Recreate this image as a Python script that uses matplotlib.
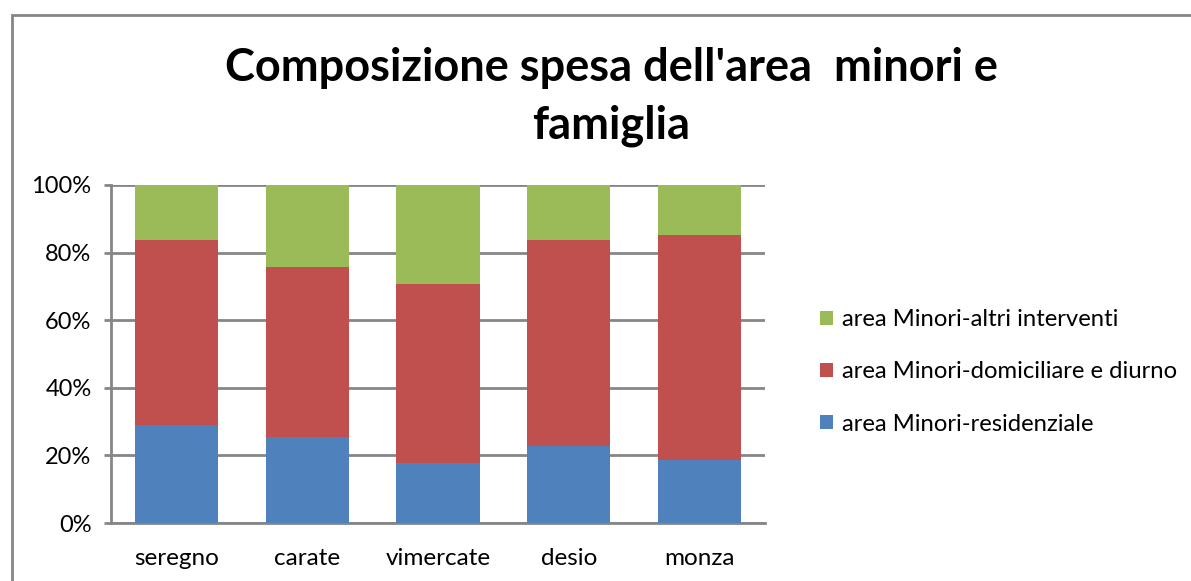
import matplotlib
matplotlib.use("Agg")
import matplotlib.pyplot as plt
from matplotlib.patches import Rectangle
import numpy as np

categories = ["seregno", "carate", "vimercate", "desio", "monza"]
residenziale = [28.9, 25.4, 17.7, 22.8, 18.7]
domiciliare = [54.8, 50.2, 53.0, 60.9, 66.5]
altri = [16.3, 24.4, 29.3, 16.3, 14.8]
series_names = ["area Minori-residenziale", "area Minori-domiciliare e diurno", "area Minori-altri interventi"]
colors = ["#4F81BD", "#C0504D", "#9BBB59"]
yticks = [0, 20, 40, 60, 80, 100]
title_lines = ["Composizione spesa dell'area  minori e", "famiglia"]

plt.rcParams['font.family'] = ['Lato', 'DejaVu Sans']

W, H = 1191, 581
fig = plt.figure(figsize=(W/100, H/100), dpi=100)
ax = fig.add_axes([111/W, 1-523/H, (765-111)/W, (523-185)/H])

x = np.arange(len(categories))
bw = 0.635
bottom = np.zeros(len(categories))
handles = []
for vals, c, name in zip([residenziale, domiciliare, altri], colors, series_names):
    b = ax.bar(x, vals, bw, bottom=bottom, color=c, label=name, zorder=3)
    handles.append(b)
    bottom += np.array(vals)

ax.set_xlim(-0.5, len(categories)-0.5)
ax.set_ylim(0, 100)
ax.set_yticks(yticks)
ax.set_yticklabels([f"{t}%" for t in yticks], fontsize=17, color="#000000")
ax.set_xticks(x)
ax.set_xticklabels(categories, fontsize=17.5)
ax.yaxis.grid(True, color="#868686", linewidth=2, zorder=0)
for s in ["top", "right"]:
    ax.spines[s].set_visible(False)
for s in ["left", "bottom"]:
    ax.spines[s].set_color("#868686")
    ax.spines[s].set_linewidth(2)
ax.tick_params(axis='x', length=0, pad=18)
ax.tick_params(axis='y', length=5, width=2, color="#868686", pad=9)

cx = (222+1000)/2/W
fig.text(cx, 1-68/H, title_lines[0], ha='center', va='center', fontsize=32.5, fontweight='bold')
fig.text(cx, 1-126/H, title_lines[1], ha='center', va='center', fontsize=32.5, fontweight='bold')

leg = fig.legend(handles[::-1], series_names[::-1], loc='center left',
                 bbox_to_anchor=(798/W, 1-372/H), frameon=False, fontsize=17.2,
                 handlelength=0.55, handleheight=0.55, handletextpad=0.4, labelspacing=1.3)

fig.patches.append(Rectangle((12/W, -0.1), 1.2, 1-15/H+0.1, transform=fig.transFigure,
                             fill=False, edgecolor="#868686", linewidth=2))

fig.savefig("out.png", dpi=100)
